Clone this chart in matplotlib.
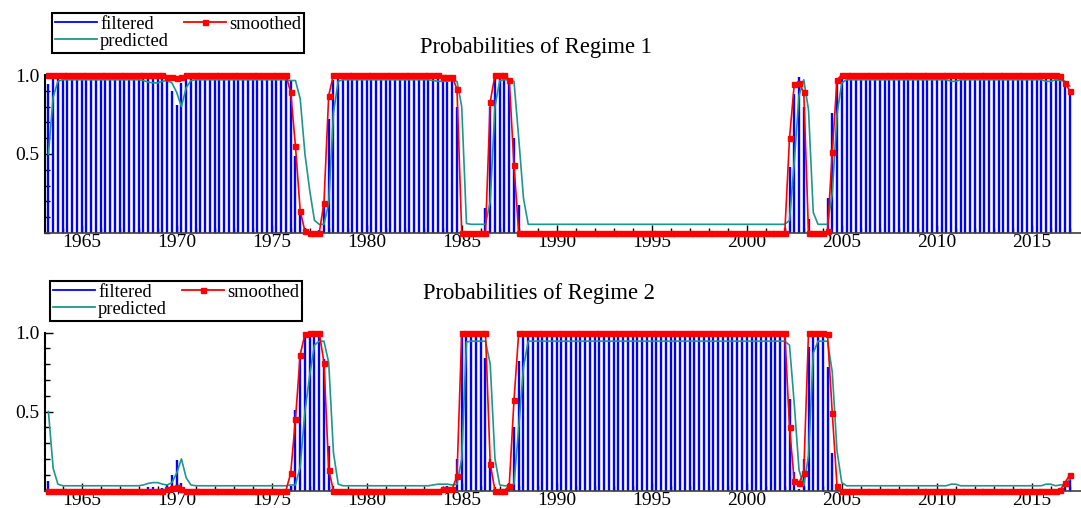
import numpy as np
import matplotlib
matplotlib.use('Agg')
import matplotlib.pyplot as plt
from matplotlib.ticker import MultipleLocator, FixedLocator, FormatStrFormatter
from matplotlib.lines import Line2D

# quarterly sample 1963Q2 .. 2017Q1, regime 1 probabilities
first_quarter = 1963.25

filt1 = ([0.94, 0.99, 0.99]                 # 1963 Q2-Q4
         + [0.99] * 16                      # 1964-1967
         + [0.99, 0.99, 0.975, 0.98]        # 1968
         + [0.99, 0.985, 0.96, 0.90]        # 1969
         + [0.81, 0.95, 0.99, 0.99]         # 1970
         + [0.99] * 20                      # 1971-1975
         + [0.97, 0.49, 0.15, 0.03]         # 1976
         + [0.005, 0.005, 0.02, 0.17]       # 1977
         + [0.72, 0.97, 0.99, 0.99]         # 1978
         + [0.99] * 20                      # 1979-1983
         + [0.98, 0.97, 0.98, 0.80]         # 1984
         + [0.01, 0.005, 0.005, 0.005]      # 1985
         + [0.01, 0.16, 0.80, 0.98]         # 1986
         + [0.99, 0.99, 0.95, 0.60]         # 1987
         + [0.18, 0.005, 0.005, 0.005]      # 1988
         + [0.005] * 52                     # 1989-2001
         + [0.03, 0.42, 0.88, 0.99]         # 2002
         + [0.80, 0.09, 0.01, 0.005]        # 2003
         + [0.005, 0.22, 0.76, 0.98]        # 2004
         + [0.99] * 44                      # 2005-2015
         + [0.99, 0.99, 0.99, 0.94]         # 2016
         + [0.90])                          # 2017 Q1

pred1 = ([0.50, 0.86, 0.96]
         + [0.97] * 16
         + [0.97, 0.965, 0.955, 0.95]
         + [0.95, 0.96, 0.965, 0.95]
         + [0.89, 0.80, 0.92, 0.965]
         + [0.97] * 20
         + [0.965, 0.965, 0.85, 0.50]
         + [0.27, 0.08, 0.055, 0.055]
         + [0.19, 0.76, 0.96, 0.97]
         + [0.97] * 18 + [0.965, 0.96]
         + [0.96, 0.96, 0.965, 0.96]
         + [0.80, 0.06, 0.055, 0.055]
         + [0.055, 0.055, 0.20, 0.80]
         + [0.965, 0.97, 0.97, 0.96]
         + [0.60, 0.22, 0.055, 0.055]
         + [0.055] * 52
         + [0.055, 0.08, 0.45, 0.87]
         + [0.97, 0.78, 0.13, 0.055]
         + [0.055, 0.055, 0.25, 0.75]
         + [0.95, 0.97, 0.97, 0.97]
         + [0.97] * 19 + [0.96, 0.96] + [0.97] * 18 + [0.96]
         + [0.96, 0.97, 0.965, 0.96]
         + [0.93])

smooth1 = ([1.0, 1.0, 1.0]
           + [1.0] * 20
           + [1.0, 1.0, 0.99, 0.985]
           + [0.98, 0.99, 1.0, 1.0]
           + [1.0] * 20
           + [0.89, 0.55, 0.14, 0.01]
           + [0.0, 0.0, 0.0, 0.19]
           + [0.87, 1.0, 1.0, 1.0]
           + [1.0] * 20
           + [0.99, 0.99, 0.99, 0.91]
           + [0.0, 0.0, 0.0, 0.0]
           + [0.0, 0.0, 0.83, 1.0]
           + [1.0, 1.0, 0.97, 0.43]
           + [0.0, 0.0, 0.0, 0.0]
           + [0.0] * 52
           + [0.0, 0.60, 0.94, 0.95]
           + [0.89, 0.0, 0.0, 0.0]
           + [0.0, 0.01, 0.51, 0.97]
           + [1.0] * 44
           + [1.0, 1.0, 0.995, 0.95]
           + [0.90])

filt1 = np.array(filt1)
pred1 = np.array(pred1)
smooth1 = np.array(smooth1)
# regime 2 is the complement of regime 1
filt2 = 1 - filt1
pred2 = 1 - pred1
smooth2 = 1 - smooth1

t = first_quarter + 0.25 * np.arange(len(filt1))

plt.rcParams['font.family'] = ['Liberation Serif', 'DejaVu Serif']

W, H = 1081.0, 508.0
fig = plt.figure(figsize=(W / 100, H / 100), dpi=100)
ax1 = fig.add_axes([45 / W, (H - 233) / H, 1036 / W, 158 / H])
ax2 = fig.add_axes([45 / W, (H - 490.5) / H, 1036 / W, 158 / H])

BLUE = '#0000ff'
TEAL = '#1e968c'
RED = '#ff0000'


def panel(ax, F, P, S, title, title_xy, legend_xy):
    ax.vlines(t, 0, F, colors=BLUE, lw=1.7, zorder=2)
    ax.plot(t, P, color=TEAL, lw=1.2, zorder=3)
    ax.plot(t, S, color=RED, lw=1.2, marker='s', ms=3.6, mec=RED, mfc=RED,
            zorder=4, clip_on=False)
    ax.set_xlim(1963.07, 2017.59)
    ax.set_ylim(0, 1)
    for s in ['top', 'right']:
        ax.spines[s].set_visible(False)
    ax.spines['left'].set_linewidth(1.5)
    ax.spines['bottom'].set_linewidth(1.2)
    ax.spines['bottom'].set_color('#404040')
    ax.xaxis.set_major_locator(MultipleLocator(5))
    ax.xaxis.set_minor_locator(MultipleLocator(1))
    ax.yaxis.set_major_locator(FixedLocator([0.5, 1.0]))
    ax.yaxis.set_minor_locator(MultipleLocator(0.1))
    ax.yaxis.set_major_formatter(FormatStrFormatter('%.1f'))
    ax.tick_params(which='both', direction='in', width=1.0, labelsize=14)
    ax.tick_params(which='major', length=6)
    ax.tick_params(which='minor', length=3.5)
    ax.tick_params(axis='y', which='major', pad=4)
    ax.tick_params(axis='x', which='major', pad=1)
    ax.set_axisbelow(True)
    fig.text(title_xy[0] / W, 1 - title_xy[1] / H, title, ha='center',
             va='center', fontsize=16.3)
    handles = [Line2D([], [], color=BLUE, lw=1.3),
               Line2D([], [], color=TEAL, lw=1.3),
               Line2D([], [], color=RED, lw=1.3, marker='s', ms=3.6)]
    leg = ax.legend(handles, ['filtered', 'predicted', 'smoothed'],
                    loc='upper left',
                    bbox_to_anchor=(legend_xy[0] / W, 1 - legend_xy[1] / H),
                    bbox_transform=fig.transFigure, ncol=2, fancybox=False,
                    edgecolor='black', framealpha=1, fontsize=13.3,
                    handlelength=2.3, handletextpad=0.15, columnspacing=0.8,
                    labelspacing=0.0, borderpad=0.15, borderaxespad=0)
    leg.get_frame().set_linewidth(1.5)


panel(ax1, filt1, pred1, smooth1, 'Probabilities of Regime 1', (536, 48), (52, 13))
panel(ax2, filt2, pred2, smooth2, 'Probabilities of Regime 2', (539, 293), (50, 281))

fig.savefig('out.png', dpi=100)
